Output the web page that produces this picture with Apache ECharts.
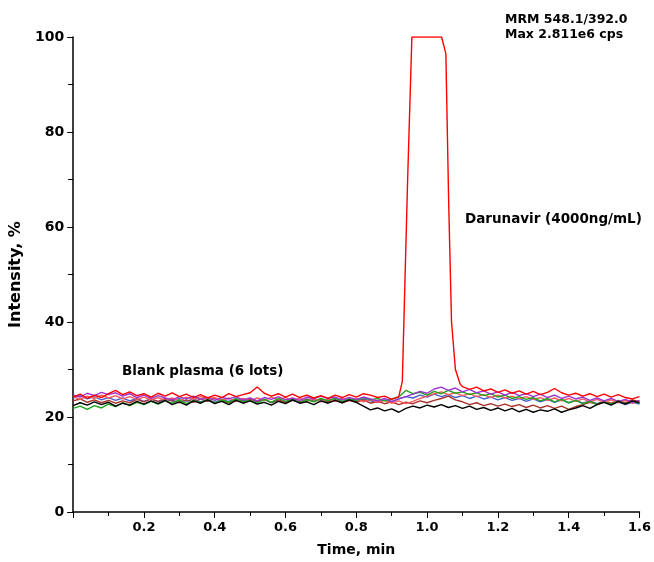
<!DOCTYPE html>
<html><head><meta charset="utf-8">
<script src="https://cdn.jsdelivr.net/npm/echarts@6/dist/echarts.min.js"></script>
<style>html,body{margin:0;padding:0;background:#fff}#c{width:654px;height:562px}</style>
</head><body><div id="c"></div>
<script>
var timeMin = [0.00,0.02,0.04,0.06,0.08,0.10,0.12,0.14,0.16,0.18,0.20,0.22,0.24,0.26,0.28,0.30,0.32,0.34,0.36,0.38,0.40,0.42,0.44,0.46,0.48,0.50,0.52,0.54,0.56,0.58,0.60,0.62,0.64,0.66,0.68,0.70,0.72,0.74,0.76,0.78,0.80,0.82,0.84,0.86,0.88,0.90,0.92,0.94,0.96,0.98,1.00,1.02,1.04,1.06,1.08,1.10,1.12,1.14,1.16,1.18,1.20,1.22,1.24,1.26,1.28,1.30,1.32,1.34,1.36,1.38,1.40,1.42,1.44,1.46,1.48,1.50,1.52,1.54,1.56,1.58,1.60];

var blankPurple = [24.6,24.2,25.0,24.5,25.2,24.7,25.1,24.4,24.9,24.1,24.6,23.9,24.5,24.0,23.6,24.3,23.8,24.4,23.7,24.2,23.5,24.1,23.8,24.3,23.6,24.0,23.4,24.1,23.7,24.3,23.6,24.0,23.5,24.2,23.8,24.4,23.9,24.2,23.6,24.1,23.7,24.2,23.8,23.4,23.9,23.3,23.8,24.3,24.8,25.4,25.0,25.9,26.3,25.6,26.1,25.3,25.8,25.1,25.5,24.8,25.3,24.6,25.2,24.5,24.9,24.3,24.8,24.1,24.6,23.9,24.4,23.8,24.2,23.5,24.0,23.4,23.9,23.3,23.7,23.1,23.5];
var blankGreen = [21.8,22.3,21.6,22.4,21.9,22.7,22.2,23.0,22.4,23.1,22.6,23.3,22.7,23.4,22.9,23.6,22.8,23.5,23.0,23.7,22.9,23.6,23.1,23.8,23.2,23.5,22.9,23.7,23.1,23.9,23.3,23.8,23.0,23.6,23.2,23.9,23.4,24.0,23.3,23.8,23.5,24.1,23.6,23.9,23.4,23.8,24.2,25.6,24.9,25.2,24.6,25.4,24.9,25.6,25.0,25.3,24.7,25.1,24.5,24.9,24.2,24.6,23.9,24.3,23.7,24.1,23.4,23.9,23.2,23.7,23.0,23.5,22.8,23.3,22.6,23.2,22.7,23.4,22.8,23.3,22.9];
var blankBlack = [22.4,23.0,22.5,23.2,22.6,23.1,22.3,22.9,22.5,23.3,22.7,23.4,22.8,23.5,22.6,23.2,22.5,23.4,22.9,23.6,22.8,23.3,22.6,23.5,22.9,23.4,22.7,23.1,22.5,23.3,22.8,23.6,22.9,23.2,22.6,23.4,22.9,23.5,23.0,23.6,23.1,22.3,21.5,21.9,21.3,21.7,21.0,21.8,22.3,21.9,22.5,22.1,22.6,22.0,22.4,21.8,22.3,21.6,22.0,21.4,21.9,21.3,21.8,21.1,21.6,21.0,21.5,21.2,21.7,21.0,21.5,21.9,22.4,21.8,22.6,23.1,22.5,23.3,22.7,23.4,23.0];
var blankBrown = [23.4,23.8,23.1,23.6,23.0,23.5,22.9,23.4,23.0,23.7,23.2,23.8,23.3,23.9,23.4,23.0,23.6,23.1,23.8,23.3,23.9,23.4,23.0,23.6,23.2,23.8,23.3,23.7,23.1,23.6,23.0,23.5,23.1,23.7,23.3,23.8,23.2,23.6,23.0,23.5,23.1,23.6,22.9,23.3,22.8,23.2,22.6,23.1,22.8,23.4,23.0,23.5,23.9,24.4,23.6,23.2,22.6,23.0,22.4,22.8,22.3,22.7,22.2,22.6,22.0,22.5,21.9,22.4,21.8,22.3,21.6,22.2,22.6,23.1,22.7,23.3,22.9,23.5,23.0,23.6,23.2];
var blankBlue = [24.0,24.5,23.8,24.3,23.6,24.1,23.5,24.0,23.4,23.9,23.3,23.8,23.2,23.7,23.4,23.9,23.3,23.8,23.2,23.7,23.1,23.6,23.3,23.9,23.4,23.8,23.2,23.7,23.0,23.5,23.1,23.6,23.2,23.8,23.3,23.7,23.1,23.6,23.2,23.7,23.3,23.8,23.4,23.1,23.6,23.2,23.8,24.3,24.0,24.6,24.2,24.8,24.3,24.7,24.1,24.5,23.9,24.4,23.8,24.2,23.6,24.1,23.5,23.9,23.3,23.8,23.2,23.7,23.1,23.6,23.0,23.5,22.9,23.4,22.8,23.3,22.7,23.2,22.6,23.1,22.7];
var blankLightRed = [24.3,23.7,24.4,23.9,24.6,24.0,24.5,23.8,24.3,23.7,24.2,23.6,24.1,23.5,24.0,23.4,24.2,23.7,24.3,23.8,24.1,23.5,24.0,23.3,23.9,23.4,24.0,23.5,24.2,23.6,24.1,23.5,23.9,23.3,23.8,23.2,23.7,23.3,23.9,23.4,23.8,23.2,23.7,23.1,23.5,22.9,23.4,22.8,23.3,23.9,24.4,24.9,25.3,24.7,25.1,24.5,24.9,24.3,24.7,24.1,24.6,24.0,24.4,23.8,24.3,23.7,24.1,23.5,24.0,23.4,23.9,23.3,23.8,23.2,23.7,23.1,23.6,23.0,23.5,22.9,23.4];

var darunavirTime = [0.00,0.02,0.04,0.06,0.08,0.10,0.12,0.14,0.16,0.18,0.20,0.22,0.24,0.26,0.28,0.30,0.32,0.34,0.36,0.38,0.40,0.42,0.44,0.46,0.48,0.50,0.52,0.54,0.56,0.58,0.60,0.62,0.64,0.66,0.68,0.70,0.72,0.74,0.76,0.78,0.80,0.82,0.84,0.86,0.88,0.90,0.92,0.93,0.945,0.957,1.00,1.041,1.053,1.061,1.069,1.08,1.093,1.10,1.12,1.14,1.16,1.18,1.20,1.22,1.24,1.26,1.28,1.30,1.32,1.34,1.36,1.38,1.40,1.42,1.44,1.46,1.48,1.50,1.52,1.54,1.56,1.58,1.60];
var darunavirValues = [24.2,24.8,23.9,24.6,24.1,24.9,25.6,24.7,25.3,24.5,24.9,24.2,25.0,24.4,25.1,24.3,24.8,24.1,24.7,24.0,24.6,24.1,24.9,24.3,24.7,25.1,26.3,25.0,24.4,24.9,24.2,24.8,24.1,24.6,24.0,24.5,23.9,24.6,24.1,24.7,24.2,24.9,24.6,24.1,24.4,23.7,24.3,27.5,70,100,100,100,96.5,65,40,30,27.0,26.4,25.8,26.3,25.5,25.9,25.2,25.7,25.0,25.5,24.8,25.4,24.7,25.2,26.0,25.1,24.6,25.0,24.4,24.9,24.3,24.8,24.2,24.7,24.1,23.8,24.3];

var xTicks = [0.2,0.4,0.6,0.8,1.0,1.2,1.4,1.6];
var yTicks = [0,20,40,60,80,100];

function pairs(xs, ys){ return xs.map(function(x,i){return [x, ys[i]];}); }

var FONT = 'DejaVu Sans';
function line(name, ys, color, xs){
  return {name:name, type:'line', data:pairs(xs||timeMin, ys), symbol:'none', animation:false,
    lineStyle:{color:color, width:1.4}, itemStyle:{color:color}};
}

var chart = echarts.init(document.getElementById('c'), null, {renderer:'canvas'});
chart.setOption({
  backgroundColor:'#fff',
  animation:false,
  grid:{left:72, right:14, top:37, bottom:50, containLabel:false},
  xAxis:{type:'value', min:0, max:1.6, interval:0.2,
    name:'Time, min', nameLocation:'middle', nameGap:31,
    nameTextStyle:{fontFamily:FONT, fontWeight:'bold', fontSize:14, color:'#000'},
    axisLine:{show:true, onZero:false, lineStyle:{color:'#000', width:1.5}},
    axisTick:{show:true, length:6, lineStyle:{color:'#000'}},
    minorTick:{show:true, splitNumber:2, length:4, lineStyle:{color:'#000'}},
    splitLine:{show:false},
    axisLabel:{fontFamily:FONT, fontWeight:'bold', fontSize:13, color:'#000', margin:9,
      formatter:function(v){ return xTicks.some(function(t){return Math.abs(t-v)<1e-9;}) ? v.toFixed(1) : ''; }}
  },
  yAxis:{type:'value', min:0, max:100, interval:20,
    name:'Intensity, %', nameLocation:'middle', nameGap:44,
    nameTextStyle:{fontFamily:FONT, fontWeight:'bold', fontSize:16, color:'#000'},
    axisLine:{show:true, onZero:false, lineStyle:{color:'#000', width:1.5}},
    axisTick:{show:true, length:6, lineStyle:{color:'#000'}},
    minorTick:{show:true, splitNumber:2, length:5, lineStyle:{color:'#000'}},
    splitLine:{show:false},
    axisLabel:{fontFamily:FONT, fontWeight:'bold', fontSize:14, color:'#000', margin:9,
      formatter:function(v){ return yTicks.indexOf(v)>=0 ? String(v) : ''; }}
  },
  graphic:[
    {type:'text', left:505, top:12, style:{text:'MRM 548.1/392.0\nMax 2.811e6 cps', fontFamily:FONT, fontWeight:'bold', fontSize:12.5, lineHeight:15, fill:'#000'}},
    {type:'text', left:465, top:212, style:{text:'Darunavir (4000ng/mL)', fontFamily:FONT, fontWeight:'bold', fontSize:13.5, fill:'#000'}},
    {type:'text', left:122, top:364, style:{text:'Blank plasma (6 lots)', fontFamily:FONT, fontWeight:'bold', fontSize:13.5, fill:'#000'}}
  ],
  series:[
    line('Blank 1', blankBlue, '#4a5fd0'),
    line('Blank 2', blankBrown, '#a8332c'),
    line('Blank 3', blankLightRed, '#ff5a5a'),
    line('Blank 4', blankGreen, '#1fa51f'),
    line('Blank 5', blankPurple, '#9a35d0'),
    line('Blank 6', blankBlack, '#000000'),
    line('Darunavir', darunavirValues, '#ff0000', darunavirTime)
  ]
});
</script>
</body></html>
